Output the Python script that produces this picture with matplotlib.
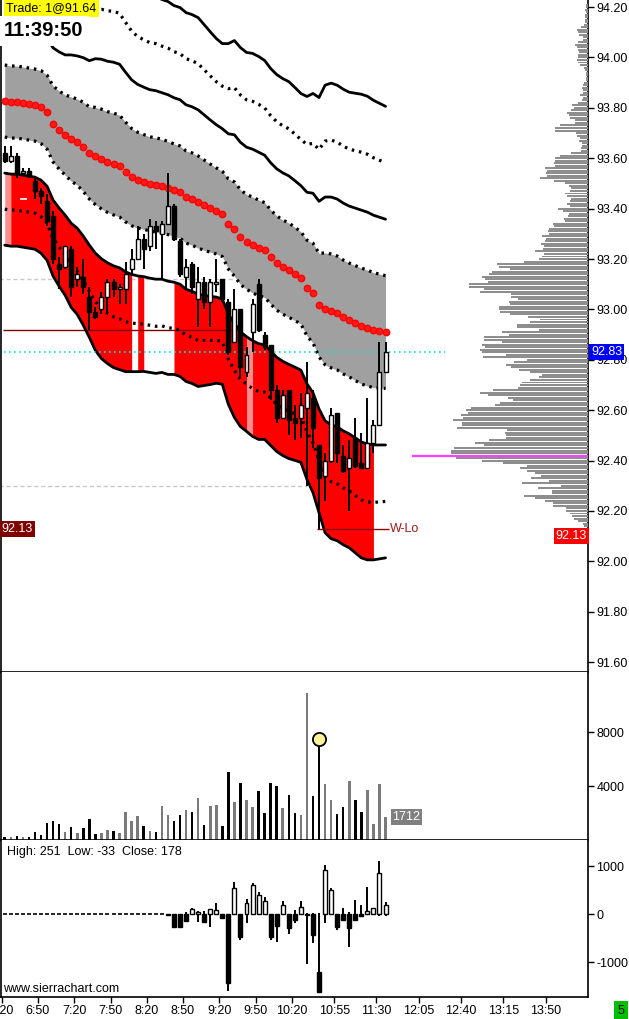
import numpy as np
import matplotlib.pyplot as plt
from matplotlib.ticker import FormatStrFormatter

plt.rcParams["font.family"] = ["Liberation Sans", "DejaVu Sans"]
plt.rcParams["font.size"] = 9
plt.rcParams["axes.unicode_minus"] = False

# ---- data --------------------------------------------------------------
first_bar = "6:20"
bar_minutes = 5
time_labels = ["6:20", "6:50", "7:20", "7:50", "8:20", "8:50", "9:20", "9:50",
               "10:20", "10:55", "11:30", "12:05", "12:40", "13:15", "13:50"]

bar_open = [93.62, 93.59, 93.61, 93.54, 93.55, 93.51, 93.47, 93.43, 93.37, 93.18,
            93.17, 93.24, 93.12, 93.13, 93.05, 92.99, 93.00, 93.05, 93.11, 93.08,
            93.08, 93.16, 93.20, 93.28, 93.25, 93.33, 93.30, 93.34, 93.41, 93.27,
            93.13, 93.18, 93.04, 93.11, 93.03, 93.10, 93.12, 93.03, 92.87, 93.00,
            92.75, 92.91, 93.10, 92.90, 92.86, 92.68, 92.57, 92.68, 92.57, 92.57,
            92.61, 92.65, 92.46, 92.34, 92.40, 92.59, 92.42, 92.37, 92.49, 92.39,
            92.37, 92.47, 92.54, 92.75]
bar_high = [93.65, 93.65, 93.62, 93.56, 93.56, 93.53, 93.48, 93.46, 93.39, 93.21,
            93.25, 93.25, 93.17, 93.20, 93.09, 93.01, 93.07, 93.12, 93.12, 93.10,
            93.19, 93.24, 93.33, 93.30, 93.36, 93.35, 93.35, 93.54, 93.42, 93.28,
            93.20, 93.19, 93.17, 93.13, 93.12, 93.20, 93.12, 93.04, 93.08, 93.00,
            92.85, 93.04, 93.12, 92.91, 92.86, 92.70, 92.68, 92.68, 92.62, 92.67,
            92.79, 92.68, 92.46, 92.43, 92.61, 92.59, 92.46, 92.48, 92.57, 92.51,
            92.65, 92.56, 92.87, 92.87]
bar_low = [93.58, 93.58, 93.52, 93.54, 93.52, 93.44, 93.42, 93.33, 93.18, 93.08,
           93.16, 93.05, 93.09, 93.06, 92.92, 92.96, 92.98, 92.98, 93.05, 93.02,
           93.02, 93.14, 93.20, 93.16, 93.23, 93.24, 93.12, 93.34, 93.27, 93.13,
           93.08, 93.06, 92.93, 93.00, 92.93, 93.07, 93.03, 92.82, 92.87, 92.73,
           92.73, 92.83, 92.91, 92.84, 92.64, 92.55, 92.57, 92.50, 92.48, 92.49,
           92.30, 92.45, 92.13, 92.24, 92.39, 92.39, 92.35, 92.20, 92.37, 92.37,
           92.37, 92.43, 92.54, 92.75]
bar_close = [93.59, 93.61, 93.54, 93.55, 93.53, 93.47, 93.45, 93.35, 93.20, 93.16,
             93.25, 93.09, 93.14, 93.09, 92.99, 92.97, 93.05, 93.11, 93.08, 93.09,
             93.14, 93.20, 93.28, 93.24, 93.33, 93.31, 93.34, 93.41, 93.28, 93.14,
             93.17, 93.09, 93.11, 93.03, 93.11, 93.11, 93.04, 92.83, 93.00, 92.77,
             92.82, 93.02, 92.92, 92.85, 92.68, 92.57, 92.66, 92.56, 92.55, 92.62,
             92.67, 92.53, 92.33, 92.40, 92.58, 92.43, 92.36, 92.41, 92.38, 92.37,
             92.47, 92.54, 92.75, 92.83]

volume = [200, 200, 300, 200, 200, 570, 370, 1260, 1450, 1180,
          590, 960, 520, 890, 1550, 440, 520, 740, 670, 520,
          2070, 1400, 1780, 1040, 670, 590, 2520, 1850, 1400, 1850,
          2220, 2070, 3110, 1110, 2520, 2590, 1040, 5030, 2810, 4220,
          2960, 2440, 3630, 2000, 4220, 3990, 2370, 3330, 2000, 1850,
          10950, 3260, 7520, 4140, 2960, 1920, 2440, 4370, 2960, 2070,
          3700, 1180, 4140, 1712]

# bid/ask delta bars (flat until 8:35)
delta_open = [0] * 52 + [-1200] + [0] * 11
delta_high = [0] * 27 + [0, 0, 0, 50, 120, 70, 70, 100, 220, 0, 0, 660, 0, 305, 640,
                         465, 345, 0, 0, 270, 0, 85, 270, 30, 30, 30, 1020, 550, 0,
                         120, 50, 290, 185, 555, 120, 1110, 251]
delta_low = [0] * 27 + [-20, -280, -280, -140, -20, -160, -160, -265, 0, -80, -1600,
                        0, -540, -180, 0, 0, 0, -540, -575, 0, -425, -180, -20,
                        -1040, -610, -1650, -195, 0, -335, -125, -680, -125, -40,
                        0, 0, -40, -33]
delta_close = [0] * 27 + [-20, -280, -280, -140, 100, 50, -160, 100, 85, -80, -1440,
                          535, -485, 220, 610, 395, 270, -485, -250, 185, -300, -125,
                          155, -20, -435, -1630, 915, 500, -280, -125, -300, -125,
                          -40, 60, 120, 845, 178]

# VWAP and its standard deviation
vwap = [93.827, 93.823, 93.823, 93.819, 93.815, 93.811, 93.803, 93.783, 93.736, 93.712,
        93.692, 93.676, 93.664, 93.645, 93.621, 93.609, 93.597, 93.585, 93.577, 93.569,
        93.545, 93.525, 93.513, 93.506, 93.498, 93.494, 93.490, 93.482, 93.474, 93.466,
        93.446, 93.438, 93.426, 93.414, 93.402, 93.391, 93.379, 93.339, 93.319, 93.287,
        93.268, 93.256, 93.244, 93.236, 93.208, 93.184, 93.168, 93.156, 93.141, 93.125,
        93.085, 93.065, 93.017, 93.002, 92.994, 92.986, 92.970, 92.958, 92.946, 92.934,
        92.926, 92.918, 92.914, 92.910]
vwap_sd = [0.143, 0.143, 0.143, 0.143, 0.143, 0.143, 0.145, 0.147, 0.151, 0.155,
           0.159, 0.167, 0.171, 0.177, 0.183, 0.193, 0.198, 0.200, 0.202, 0.202,
           0.198, 0.193, 0.190, 0.188, 0.187, 0.187, 0.185, 0.185, 0.183, 0.183,
           0.183, 0.183, 0.183, 0.179, 0.175, 0.171, 0.169, 0.179, 0.187, 0.188,
           0.188, 0.190, 0.190, 0.188, 0.187, 0.187, 0.187, 0.187, 0.185, 0.183,
           0.190, 0.198, 0.206, 0.222, 0.226, 0.226, 0.226, 0.226, 0.228, 0.230,
           0.230, 0.228, 0.226, 0.224]
# state of the lower band between consecutive bars: r = red, p = pink, w = none
band_zone = (["p"] + ["r"] * 20 + ["w"] + ["r"] + ["w"] * 5 + ["r"] * 12 +
             ["p"] + ["r"] * 20 + ["w"] * 2)

# volume at price, from 94.21 down in 0.01 steps
profile_top = 94.21
profile = [2, 2, 3, 2, 3, 3, 3, 3, 4, 7,
           11, 10, 9, 5, 5, 10, 13, 11, 10, 9,
           10, 10, 11, 10, 8, 4, 3, 2, 2, 2,
           2, 4, 5, 6, 5, 5, 8, 5, 6, 10,
           16, 14, 17, 21, 19, 18, 13, 13, 28, 33,
           33, 12, 11, 8, 9, 6, 6, 7, 7, 17,
           28, 33, 33, 34, 33, 43, 41, 42, 41, 48,
           34, 23, 19, 17, 18, 23, 21, 17, 18, 21,
           18, 30, 25, 19, 20, 24, 23, 35, 34, 39,
           40, 39, 46, 42, 43, 47, 44, 45, 53, 44,
           46, 49, 64, 91, 89, 78, 96, 99, 106, 103,
           100, 119, 119, 104, 108, 77, 77, 70, 79, 78,
           89, 89, 88, 78, 60, 48, 58, 71, 71, 49,
           86, 79, 104, 104, 86, 106, 103, 108, 106, 82,
           105, 61, 74, 82, 77, 69, 58, 46, 49, 58,
           66, 68, 70, 95, 108, 100, 80, 75, 88, 93,
           117, 122, 120, 127, 125, 135, 126, 126, 131, 81,
           83, 82, 82, 99, 113, 104, 134, 137, 137, 138,
           132, 106, 85, 61, 68, 61, 53, 47, 57, 39,
           66, 27, 50, 36, 36, 64, 53, 43, 35, 35,
           22, 22, 18, 16, 14, 10, 5, 4]

ref_level = 92.92
gray_levels = [93.12, 92.30]
last_trade = "Trade: 1@91.64"
clock = "11:39:50"

# ---- layout ---------------------------------------------------------------
W, H = 629, 1019


def rect(x0, y0, x1, y1):
    return [x0 / W, 1 - y1 / H, (x1 - x0) / W, (y1 - y0) / H]


def minutes(t):
    h, m = t.split(":")
    return int(h) * 60 + int(m)


def draw_candles(axis, o, h, l, c, width=0.66):
    o, h, l, c = (np.asarray(v, dtype=float) for v in (o, h, l, c))
    x = np.arange(len(o))
    axis.vlines(x, l, h, color="black", lw=1.4, zorder=5)
    flat = c == o
    up = c > o
    body = np.abs(c - o)
    bottom = np.minimum(o, c)
    colors = np.where(up, "white", "black")
    axis.bar(x[~flat], body[~flat], bottom=bottom[~flat], width=width,
             color=colors[~flat], edgecolor="black", lw=1.0, zorder=6)
    axis.hlines(o[flat], x[flat] - width / 2, x[flat] + width / 2,
                color="black", lw=1.2, zorder=6)


fig = plt.figure(figsize=(W / 100, H / 100), dpi=100)
ax = fig.add_axes(rect(0.5, 0, 588, 672))
axv = fig.add_axes(rect(0.5, 672, 588, 840), sharex=ax)
axd = fig.add_axes(rect(0.5, 840, 588, 997), sharex=ax)
axp = fig.add_axes(rect(0.5, 0, 588, 672), sharey=ax)

n = len(bar_close)
x = np.arange(n)
c = np.array(vwap)
s = np.array(vwap_sd)

# ---- price panel ------------------------------------------------------------
for lvl, end in zip(gray_levels, [38, 50]):
    ax.hlines(lvl, -1, end, color="#c8c8c8", lw=1, linestyles=(0, (3, 2)), zorder=0.5)

ax.fill_between(x, c - s, c + s, color="#a0a0a0", lw=0, zorder=1)
zone_colors = {"r": "#ff0000", "p": "#ff8c8c"}
start = 0
for i in range(1, len(band_zone) + 1):
    if i == len(band_zone) or band_zone[i] != band_zone[start]:
        z = band_zone[start]
        if z in zone_colors:
            seg = slice(start, i + 1)
            ax.fill_between(x[seg], (c - 4 * s)[seg], (c - 2 * s)[seg],
                            color=zone_colors[z], lw=0, zorder=1)
        start = i

dotted = (0, (0.8, 1.5))
for k, style, lw in [(1, dotted, 2.3), (2, "-", 2.0), (3, dotted, 2.3), (4, "-", 2.0)]:
    for sign in (1, -1):
        ax.plot(x, c + sign * k * s, color="black", lw=lw, linestyle=style,
                solid_capstyle="round", zorder=3)
ax.plot(x, c, ls="none", marker="o", ms=4.6, color="#ff1a1a", mec="#ff0000", zorder=4)

ax.hlines(ref_level, -0.3, 37.8, color="#800000", lw=1, zorder=2)
ax.hlines(93.44, 2.5, 3.7, color="white", lw=1.2, zorder=2)
ax.hlines(bar_close[-1], -1, 72.8, color="#10e0e0", lw=1.2, linestyles=(0, (1, 2)),
          zorder=4)

low_bar = int(np.argmin(bar_low))
day_low = bar_low[low_bar]
ax.hlines(day_low, low_bar - 0.3, 63.5, color="#8b0000", lw=1, zorder=4)
ax.text(63.8, day_low, "W-Lo", color="#a01818", fontsize=9, va="center", ha="left",
        zorder=7)

draw_candles(ax, bar_open, bar_high, bar_low, bar_close)

ax.set_xlim(-0.7, 96.5)
ax.set_ylim(91.561, 94.228)
ax.set_yticks(np.arange(91.6, 94.3, 0.2))
ax.yaxis.set_major_formatter(FormatStrFormatter("%.2f"))

ax.annotate(f"{day_low:.2f}", xy=(0, day_low), xycoords=("axes fraction", "data"),
            xytext=(1, 0), textcoords="offset pixels", ha="left", va="center",
            color="white", fontsize=9, zorder=20, annotation_clip=False,
            bbox=dict(boxstyle="square,pad=0.15", fc="#800000", ec="none"))
ax.annotate(f"{bar_close[-1]:.2f}", xy=(1, bar_close[-1]),
            xycoords=("axes fraction", "data"), xytext=(3, 0),
            textcoords="offset pixels", ha="left", va="center", color="white",
            fontsize=9, zorder=20, annotation_clip=False,
            bbox=dict(boxstyle="square,pad=0.15", fc="#0000ff", ec="none"))

# ---- volume profile overlay ------------------------------------------------
levels = np.round(profile_top - 0.01 * np.arange(len(profile)), 2)
axp.barh(levels, profile, height=0.0078, color="#8e8e8e", lw=0, zorder=2)
poc = levels[int(np.argmax(profile))]
axp.axhline(poc, xmin=413 / 588, xmax=1, color="#ff40ff", lw=1.6, zorder=3)
axp.set_xlim(588, 0)
axp.axis("off")
axp.patch.set_visible(False)
axp.annotate(f"{day_low:.2f}", xy=(1, day_low), xycoords=("axes fraction", "data"),
             xytext=(-1, -1), textcoords="offset pixels", ha="right", va="top",
             color="white", fontsize=9, zorder=20, annotation_clip=False,
             bbox=dict(boxstyle="square,pad=0.15", fc="#ff0000", ec="none"))

# ---- volume panel -------------------------------------------------------------
up_bar = np.array(bar_close) > np.array(bar_open)
axv.bar(x, volume, width=0.42, color=np.where(up_bar, "#7a7a7a", "black"), zorder=2)
axv.plot(low_bar, volume[low_bar], marker="o", ms=9.5, mfc="#fdf29c", mec="black",
         mew=1.3, zorder=4)
axv.annotate(str(volume[-1]), xy=(n - 1, volume[-1]), xytext=(7, 0),
             textcoords="offset pixels", ha="left", va="center", color="white",
             fontsize=9, bbox=dict(boxstyle="square,pad=0.15", fc="#808080", ec="none"))
axv.set_ylim(0, 12500)
axv.set_yticks([4000, 8000])

# ---- delta panel ----------------------------------------------------------------
draw_candles(axd, delta_open, delta_high, delta_low, delta_close)
axd.set_ylim(-1729, 1542)
axd.set_yticks([-1000, 0, 1000])
axd.text(0.011, 0.962, f"High: {delta_high[-1]}  Low: {delta_low[-1]}  "
         f"Close: {delta_close[-1]}", transform=axd.transAxes, va="top", ha="left",
         fontsize=9)
axd.text(0.004, 0.051, "www.sierrachart.com", transform=axd.transAxes, va="center",
         ha="left", fontsize=9, zorder=10,
         bbox=dict(boxstyle="square,pad=0.1", fc="white", ec="none"))

tick_pos = [(minutes(t) - minutes(first_bar)) / bar_minutes - 0.5 for t in time_labels]
axd.set_xticks(tick_pos)
axd.set_xticklabels(time_labels)
axd.tick_params(axis="x", direction="out", length=4, width=1, labelsize=9, pad=2)

for a in (ax, axv, axd):
    a.yaxis.tick_right()
    a.tick_params(axis="y", direction="out", length=4, width=1, labelsize=9, pad=2,
                  right=True, left=False)
    a.spines["top"].set_visible(False)
    for sp in ("left", "right", "bottom"):
        a.spines[sp].set_linewidth(1.2)
for a in (ax, axv):
    a.tick_params(axis="x", bottom=False, labelbottom=False)

# ---- header and corner labels -------------------------------------------------
fig.text(6 / W, 1 - 8.5 / H, last_trade, fontsize=9, va="center", ha="left",
         bbox=dict(boxstyle="square,pad=0.2", fc="#ffff00", ec="none"))
fig.text(4 / W, 1 - 31 / H, clock, fontsize=14.5, fontweight="bold", va="center",
         ha="left", bbox=dict(boxstyle="square,pad=0.25", fc="white", ec="none"))
fig.text(621 / W, 1 - 1011 / H, "5", fontsize=9, va="center", ha="center",
         bbox=dict(boxstyle="square,pad=0.3", fc="#00c000", ec="none"))

fig.savefig("out.png", dpi=100)
